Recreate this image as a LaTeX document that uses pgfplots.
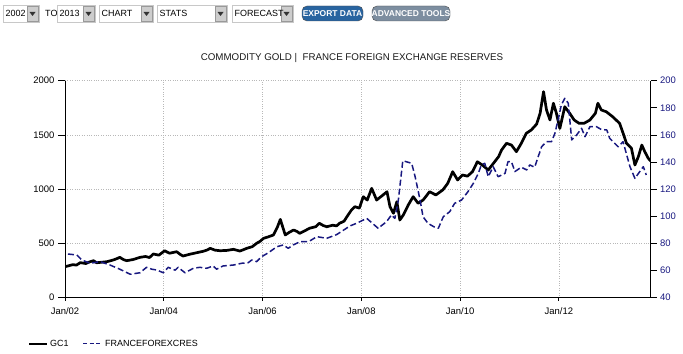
\documentclass[border=0pt]{standalone}
\usepackage{fontspec}
\setmainfont{Liberation Sans}
\usepackage{pgfplots}
\pgfplotsset{compat=1.18}
\definecolor{navy}{RGB}{24,24,128}
\definecolor{boxc}{RGB}{200,200,200}
\definecolor{btn}{RGB}{205,205,205}
\definecolor{expblue}{RGB}{40,100,160}
\definecolor{advgray}{RGB}{125,142,160}
\newcommand\dropbox[3]{%
  \draw[boxc, fill=white] (#1,331) rectangle (#2,348);
  \draw[gray!80, fill=btn] (#2-12,332) rectangle (#2-1,347);
  \fill[black!80] (#2-9.5,341) -- (#2-3.5,341) -- (#2-6.5,337) -- cycle;
  \node[anchor=west, inner sep=0pt] at (#1+2.5,339.5) {#3};}
\begin{document}
\begin{tikzpicture}[x=1bp,y=1bp, font=\fontsize{9}{10}\selectfont]
\path[use as bounding box] (0,0) rectangle (683,353);
% toolbar
\dropbox{3}{39}{2002}
\node[anchor=west, inner sep=0pt] at (45,339.5) {TO};
\dropbox{57}{95}{2013}
\dropbox{99}{153}{CHART}
\dropbox{157}{227}{STATS}
\dropbox{232}{293}{FORECAST}
\draw[black!70, fill=expblue, rounded corners=5bp] (302,332) rectangle (363,347);
\node[text=white, inner sep=0pt] at (332.5,339.5) {\fontsize{8.5}{9}\selectfont\bfseries EXPORT DATA};
\draw[black!70, fill=advgray, rounded corners=5bp] (372,332) rectangle (450,347);
\node[text=white, inner sep=0pt] at (411,339.5) {\fontsize{8.5}{9}\selectfont\bfseries ADVANCED TOOLS};
% title
\node[inner sep=0pt, text=black!90] at (352,295) {\fontsize{9.8}{10}\selectfont COMMODITY GOLD |\ \ FRANCE FOREIGN EXCHANGE RESERVES};
% legend
\draw[black, line width=2bp] (29,9.5) -- (47,9.5);
\node[anchor=west, inner sep=0pt] at (50,9.5) {GC1};
\draw[navy, line width=1.6bp, dash pattern=on 4bp off 2.5bp] (83,9.5) -- (102,9.5);
\node[anchor=west, inner sep=0pt] at (105,9.5) {FRANCEFOREXCRES};
\begin{axis}[at={(65bp,55.3bp)}, anchor=south west, scale only axis,
  width=585.7bp, height=217bp,
  xmin=2002, xmax=2013.86, ymin=0, ymax=2000,
  ytick={0,500,...,2000},
  xtick={2002,2004,...,2012},
  xticklabels={Jan/02,Jan/04,Jan/06,Jan/08,Jan/10,Jan/12},
  axis y line*=left, axis x line*=bottom,
  axis line style={line width=0.8bp},
  grid=major, grid style={dotted, black!28, line width=0.7bp},
  tick align=outside, major tick length=7bp,
  xtick style={/pgfplots/major tick length=3bp},
  tick style={black, line width=0.8bp},
  tick label style={font=\fontsize{9.5}{10}\selectfont},
  xticklabel style={yshift=1bp},
  /pgf/number format/assume math mode=true,
  /pgf/number format/1000 sep={},
  clip=true]
\addplot[black, line width=2.7bp, line join=round] table {
2002.00 286
2002.08 295
2002.16 305
2002.23 300
2002.31 323
2002.42 315
2002.51 332
2002.58 341
2002.64 322
2002.70 325
2002.85 332
2002.98 348
2003.05 360
2003.11 372
2003.18 352
2003.25 341
2003.38 352
2003.45 362
2003.52 372
2003.63 380
2003.71 370
2003.79 403
2003.90 392
2004.02 433
2004.07 420
2004.12 410
2004.26 424
2004.33 400
2004.39 384
2004.52 400
2004.60 408
2004.67 415
2004.80 428
2004.88 440
2004.94 455
2005.04 438
2005.14 433
2005.28 436
2005.41 446
2005.54 430
2005.61 442
2005.68 455
2005.79 470
2005.88 501
2005.95 520
2006.02 547
2006.11 560
2006.22 578
2006.30 650
2006.36 722
2006.41 650
2006.46 578
2006.55 605
2006.63 624
2006.70 610
2006.75 593
2006.85 615
2006.95 640
2007.08 655
2007.15 686
2007.23 665
2007.30 654
2007.42 668
2007.50 662
2007.56 686
2007.65 705
2007.70 740
2007.80 808
2007.87 839
2007.96 825
2008.04 931
2008.12 900
2008.21 1008
2008.31 900
2008.44 947
2008.52 977
2008.58 839
2008.65 778
2008.72 885
2008.78 716
2008.85 762
2008.95 854
2009.05 931
2009.15 870
2009.25 900
2009.32 940
2009.38 977
2009.51 947
2009.65 993
2009.75 1054
2009.85 1161
2009.95 1085
2010.05 1131
2010.15 1120
2010.25 1161
2010.35 1253
2010.45 1223
2010.57 1177
2010.70 1253
2010.78 1300
2010.84 1361
2010.94 1423
2011.04 1407
2011.14 1346
2011.24 1423
2011.34 1515
2011.44 1545
2011.55 1600
2011.62 1699
2011.69 1899
2011.75 1730
2011.82 1638
2011.89 1792
2011.95 1700
2012.02 1560
2012.12 1760
2012.22 1699
2012.31 1638
2012.41 1607
2012.51 1607
2012.63 1638
2012.74 1700
2012.79 1792
2012.86 1730
2012.96 1714
2013.09 1668
2013.23 1607
2013.29 1530
2013.37 1423
2013.47 1377
2013.54 1223
2013.61 1300
2013.68 1407
2013.74 1346
2013.81 1285
2013.86 1260
};
\end{axis}
\begin{axis}[at={(65bp,55.3bp)}, anchor=south west, scale only axis,
  width=585.7bp, height=217bp,
  xmin=2002, xmax=2013.86, ymin=40, ymax=200,
  ytick={40,60,...,200},
  axis y line*=right, axis x line=none,
  axis line style={line width=0.8bp},
  tick align=outside, major tick length=6bp,
  tick style={black, line width=0.8bp},
  tick label style={font=\fontsize{9.5}{10}\selectfont},
  yticklabel style={text=navy},
  /pgf/number format/assume math mode=true,
  clip=true]
\addplot[navy, line width=1.5bp, dash pattern=on 6bp off 3bp, line join=round] table {
2002.06 72.2
2002.24 71.5
2002.34 67.8
2002.51 65.4
2002.71 66.6
2002.91 64.1
2003.11 61.0
2003.32 57.3
2003.52 58.4
2003.65 62.4
2003.76 61.0
2003.86 60.4
2003.99 58.4
2004.09 62.4
2004.23 60.3
2004.29 62.4
2004.43 58.4
2004.60 61.7
2004.73 62.4
2004.87 61.7
2005.00 63.4
2005.07 61.0
2005.20 63.4
2005.41 64.1
2005.58 65.4
2005.71 65.8
2005.78 67.8
2005.88 66.6
2005.98 70.2
2006.12 73.2
2006.29 77.6
2006.42 78.9
2006.52 76.4
2006.62 78.9
2006.76 81.3
2006.93 81.3
2007.10 85.0
2007.30 83.8
2007.50 86.5
2007.77 92.9
2007.90 94.8
2008.11 98.5
2008.34 91.2
2008.51 96.0
2008.61 101.0
2008.68 98.5
2008.75 112
2008.84 141
2009.02 139.1
2009.09 129.2
2009.19 112
2009.25 99.7
2009.35 94.8
2009.49 91.9
2009.56 91.2
2009.66 99.7
2009.79 103.4
2009.89 109.6
2010.03 112
2010.16 118.2
2010.27 124.4
2010.37 131.7
2010.43 137.9
2010.50 139.1
2010.57 129.2
2010.67 136.6
2010.77 129.2
2010.91 131.7
2010.97 140.3
2011.04 140.3
2011.11 133
2011.24 136.2
2011.35 134.2
2011.41 137.9
2011.51 136.2
2011.65 151.3
2011.75 155
2011.85 155
2011.92 161.2
2011.99 172
2012.05 182.1
2012.12 187
2012.19 183.4
2012.26 156.3
2012.36 160
2012.46 164.9
2012.53 158.7
2012.63 166.1
2012.76 166.1
2012.86 164
2012.97 163.7
2013.03 157.5
2013.20 151.3
2013.30 155
2013.44 136.6
2013.54 128
2013.71 136.6
2013.77 130.5
};
\end{axis}
\end{tikzpicture}
\end{document}
